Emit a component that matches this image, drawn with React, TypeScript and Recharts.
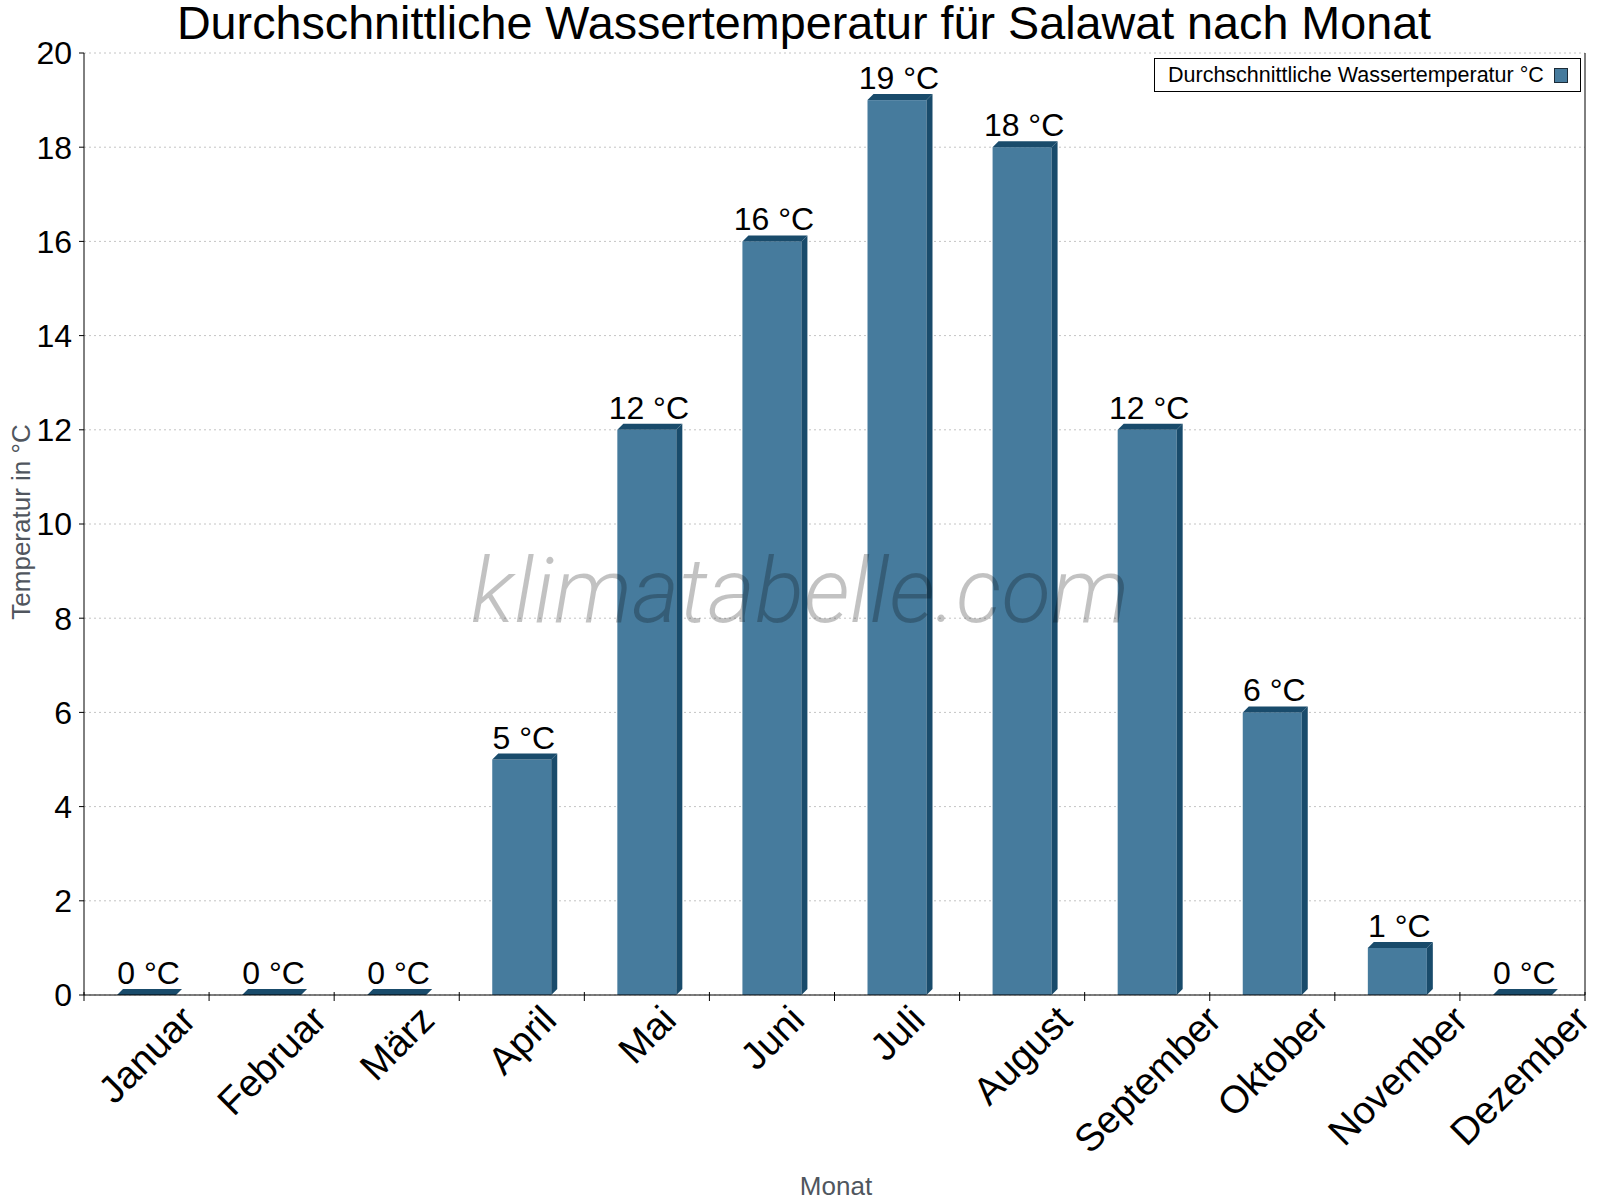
import React from "react"
import { BarChart, Bar, XAxis, YAxis, CartesianGrid, Legend, LabelList } from "recharts"

const months = ["Januar", "Februar", "März", "April", "Mai", "Juni", "Juli", "August", "September", "Oktober", "November", "Dezember"]
const waterTemp = [0, 0, 0, 5, 12, 16, 19, 18, 12, 6, 1, 0]
const yTicks = [0, 2, 4, 6, 8, 10, 12, 14, 16, 18, 20]
const seriesName = "Durchschnittliche Wassertemperatur °C"
const title = "Durchschnittliche Wassertemperatur für Salawat nach Monat"

const data = months.map((month, i) => ({ month, temp: waterTemp[i] }))

const W = 1600
const H = 1200
// axes take 1px each, so the plot area runs x 84..1585, y 53..995
const margin = { top: 53, right: 14, bottom: 204, left: 83 }
const band = (W - 84 - 15) / months.length
const FONT = '"Liberation Sans", Arial, sans-serif'
const front = "#467b9d"
const dark = "#194b6b"
const depth = 6

let ctx: CanvasRenderingContext2D | null = null
function textWidth(s: string, size: number) {
  if (!ctx) ctx = document.createElement("canvas").getContext("2d")
  if (!ctx) return s.length * size * 0.55
  ctx.font = `${size}px ${FONT}`
  return ctx.measureText(s).width
}

function Bar3D(props: any) {
  const { x, y, width, height } = props
  const d = depth
  const top = `${x},${y} ${x + d},${y - d} ${x + width + d},${y - d} ${x + width},${y}`
  const side = `${x + width},${y} ${x + width + d},${y - d} ${x + width + d},${y + height - d} ${x + width},${y + height}`
  return (
    <g>
      {height > 0 && <rect x={x} y={y} width={width} height={height} fill={front} />}
      {height > 0 && <polygon points={side} fill={dark} />}
      <polygon points={top} fill={dark} />
    </g>
  )
}

function ValueLabel(props: any) {
  const vb = props.viewBox || props
  const { x, y, width } = vb
  return (
    <text x={x + width / 2 + 2} y={y - 11} textAnchor="middle" fontSize={32} fill="#000" fontFamily={FONT}>
      {`${props.value} °C`}
    </text>
  )
}

function MonthTick(props: any) {
  const { x, y, payload, index } = props
  const f = 38.5
  const L = textWidth(payload.value, f)
  const cy = y + 13 + 0.707 * (L / 2 + 0.17 * f)
  // keep the last label inside the page
  const cx = index === months.length - 1 ? x - 3 : x
  return (
    <g>
      <line x1={x - band / 2} x2={x - band / 2} y1={y - 3} y2={y + 6} stroke="#000" />
      {index === months.length - 1 && <line x1={x + band / 2} x2={x + band / 2} y1={y - 3} y2={y + 6} stroke="#000" />}
      <text x={cx} y={cy} textAnchor="middle" dominantBaseline="central" transform={`rotate(-45 ${cx} ${cy})`} fontSize={f} fill="#000" fontFamily={FONT}>
        {payload.value}
      </text>
    </g>
  )
}

function LegendBox({ payload }: any) {
  const item = (payload && payload[0]) || { value: seriesName }
  return (
    <div style={{ width: 427, height: 34, boxSizing: "border-box", border: "1px solid #000", background: "#fff", display: "flex", alignItems: "center", justifyContent: "space-between", padding: "0 12px 0 13px", fontFamily: FONT, fontSize: 21.5, color: "#000" }}>
      <span>{item.value}</span>
      <span style={{ width: 14, height: 15, boxSizing: "border-box", background: front, border: "1px solid #1c2c38" }} />
    </div>
  )
}

export default function App() {
  return (
    <div style={{ position: "absolute", left: 0, top: 0, width: W, height: H, background: "#fff", fontFamily: FONT }}>
      <BarChart width={W} height={H} data={data} margin={margin} barSize={59}>
        <CartesianGrid vertical={false} stroke="#c4c4c4" strokeDasharray="2 3" />
        <XAxis dataKey="month" height={1} interval={0} tickSize={0} tickMargin={0} tickLine={false} axisLine={{ stroke: "#000" }} tick={<MonthTick />} />
        <YAxis width={1} domain={[0, 20]} ticks={yTicks} interval={0} tickSize={5} tickMargin={7} axisLine={{ stroke: "#000" }} tickLine={{ stroke: "#000" }} tick={{ fontSize: 32, fill: "#000", fontFamily: FONT }} />
        <YAxis yAxisId="right" orientation="right" width={1} domain={[0, 20]} tick={false} tickLine={false} axisLine={{ stroke: "#000" }} />
        <Legend layout="horizontal" verticalAlign="middle" align="center" content={<LegendBox />} wrapperStyle={{ left: 1154, top: 58, width: 427, height: 34 }} />
        <Bar dataKey="temp" name={seriesName} shape={<Bar3D />} isAnimationActive={false}>
          <LabelList dataKey="temp" content={<ValueLabel />} />
        </Bar>
      </BarChart>
      <div style={{ position: "absolute", left: 0, top: 0, width: 1608, textAlign: "center", fontSize: 46.7, lineHeight: "46px", color: "#000", whiteSpace: "nowrap" }}>{title}</div>
      <div style={{ position: "absolute", left: 21, top: 522, transform: "translate(-50%, -50%) rotate(-90deg)", fontSize: 26, color: "#50565e", whiteSpace: "nowrap" }}>Temperatur in °C</div>
      <div style={{ position: "absolute", left: 836, top: 1186, transform: "translate(-50%, -50%)", fontSize: 26, color: "#50565e", whiteSpace: "nowrap" }}>Monat</div>
      <div style={{ position: "absolute", left: 0, top: 547, width: 1600, textAlign: "center", fontFamily: "Roboto, sans-serif", fontStyle: "italic", fontWeight: 300, fontSize: 91, lineHeight: "88px", color: "rgba(0,0,0,0.24)", whiteSpace: "nowrap", pointerEvents: "none" }}>klimatabelle.com</div>
    </div>
  )
}
